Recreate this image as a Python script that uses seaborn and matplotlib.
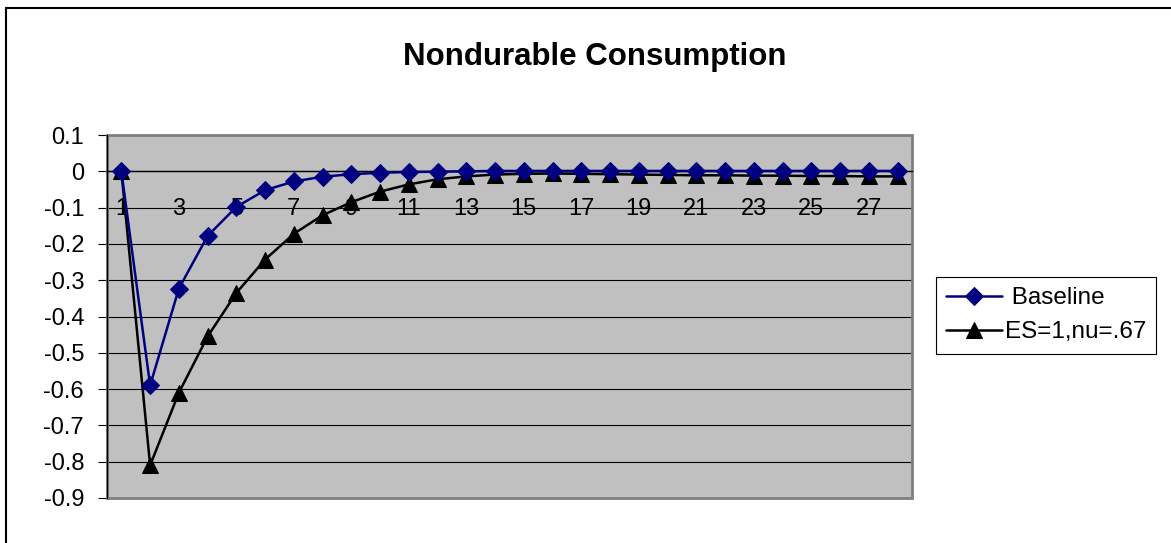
import numpy as np
import pandas as pd
import matplotlib
matplotlib.use("Agg")
import matplotlib.pyplot as plt
import seaborn as sns
from matplotlib.patches import Rectangle

# values
periods = list(range(1, 29))
baseline = [0.0, -0.59, -0.323, -0.178, -0.098, -0.052, -0.028, -0.015, -0.008,
            -0.004, -0.002, -0.001, 0.0, 0.001, 0.001, 0.001, 0.001, 0.001, 0.001,
            0.001, 0.001, 0.001, 0.001, 0.001, 0.001, 0.001, 0.001, 0.001]
es_nu = [0.0, -0.81, -0.61, -0.455, -0.335, -0.243, -0.172, -0.121, -0.085,
         -0.056, -0.036, -0.022, -0.014, -0.009, -0.007, -0.006, -0.007, -0.008,
         -0.009, -0.010, -0.011, -0.011, -0.012, -0.012, -0.013, -0.013, -0.014, -0.014]
series_names = [" Baseline", "ES=1,nu=.67"]
y_ticks = [0.1, 0, -0.1, -0.2, -0.3, -0.4, -0.5, -0.6, -0.7, -0.8, -0.9]
x_labels = list(range(1, 28, 2))

sns.set_style("white")
plt.rcParams['font.family'] = ['Liberation Sans', 'DejaVu Sans']
plt.rcParams['text.color'] = 'black'
plt.rcParams['xtick.color'] = 'black'
plt.rcParams['ytick.color'] = 'black'

W, H = 1171, 543
fig = plt.figure(figsize=(W / 100, H / 100), dpi=100)
ax = fig.add_axes([107 / W, 1 - 498 / H, (912 - 107) / W, (498 - 135) / H])
ax.set_facecolor("#C0C0C0")

df = pd.DataFrame({"period": periods, "Baseline": baseline, "ES=1,nu=.67": es_nu})

sns.lineplot(data=df, x="period", y="Baseline", ax=ax, color="#000080",
             marker="D", markersize=9.5, markeredgecolor="#000080", linewidth=1.8,
             label=series_names[0], zorder=4)
sns.lineplot(data=df, x="period", y="ES=1,nu=.67", ax=ax, color="black",
             marker="^", markersize=11, markeredgecolor="black", linewidth=1.8,
             label=series_names[1], zorder=3)

ax.set_xlim(0.5, 28.5)
ax.set_ylim(-0.9, 0.1)
ax.set_yticks(y_ticks)
ax.set_yticklabels([("%g" % v) for v in y_ticks])
ax.yaxis.grid(True, color="black", linewidth=0.8)
ax.set_axisbelow(True)

# category axis crossing at zero
ax.set_xticks(x_labels)
ax.set_xticklabels([str(v) for v in x_labels])
ax.set_xticks(np.arange(0.5, 29, 1), minor=True)
ax.spines["bottom"].set_position(("data", 0))
ax.spines["bottom"].set_color("black")
ax.spines["bottom"].set_linewidth(1.0)
ax.spines["left"].set_color("black")
ax.spines["left"].set_linewidth(1.0)
ax.spines["top"].set_visible(False)
ax.spines["right"].set_visible(False)
ax.tick_params(axis="x", which="major", length=0, pad=19, labelsize=17)
ax.tick_params(axis="x", which="minor", length=5, width=0.8, color="black", direction="out")
ax.tick_params(axis="y", length=6.5, width=0.8, color="black", pad=10, labelsize=17, left=True)
ax.set_xlabel("")
ax.set_ylabel("")

# plot area border
ax.add_patch(Rectangle((0, 0), 1, 1, transform=ax.transAxes, fill=False,
                       edgecolor="#808080", linewidth=2, clip_on=False, zorder=1))

fig.text(595 / W, 1 - 57 / H, "Nondurable Consumption", ha="center", va="center",
         fontsize=22.5, fontweight="bold")

leg = ax.legend(loc="upper left", bbox_to_anchor=(936 / W, 1 - 277 / H),
                bbox_transform=fig.transFigure, fontsize=17.5, frameon=True,
                fancybox=False, edgecolor="black", framealpha=1, borderpad=0.42,
                handlelength=2.3, handletextpad=0.1, labelspacing=0.5, borderaxespad=0)
leg.get_frame().set_linewidth(0.8)

# outer chart border (cut off at right/bottom)
fig.add_artist(Rectangle((6 / W, -0.1), 1.2, 1.1 - 8 / H, transform=fig.transFigure,
                         fill=False, edgecolor="black", linewidth=1.5))

fig.savefig("out.png", dpi=100)
